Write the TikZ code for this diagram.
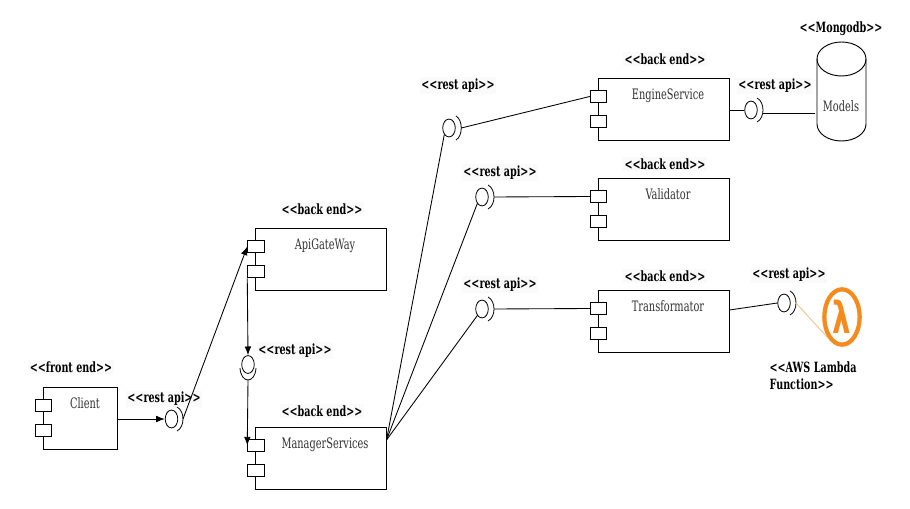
\documentclass[tikz,border=0pt]{standalone}
\usepackage{fontspec}
\setmainfont{DejaVu Serif}[FakeStretch=0.68]
\newfontfamily\lambdafont{DejaVu Sans}[FakeStretch=0.66]
\usetikzlibrary{shapes.geometric,arrows.meta}
\definecolor{lambdaorange}{HTML}{F58A1F}
\definecolor{lambdaline}{HTML}{EFC681}
\tikzset{
  >={Latex[length=6.5pt,width=5pt]},
  compbox/.style={draw=black,fill=white,line width=0.7pt,minimum width=98.2pt,minimum height=46.5pt,inner sep=0pt},
  smallbox/.style={draw=black,fill=white,line width=0.7pt,minimum width=12.4pt,minimum height=9.6pt,inner sep=0pt},
  ball/.style={draw=black,fill=white,ellipse,line width=0.6pt,minimum width=9.4pt,minimum height=13.4pt,inner sep=0pt},
  sock/.style={draw=black,line width=0.6pt},
  wire/.style={draw=black,line width=0.65pt},
  tag/.style={font=\fontsize{10.6}{11}\selectfont\bfseries,fill=black!2,inner sep=1pt},
  title/.style={font=\fontsize{10.8}{11}\selectfont,text=black!80,inner sep=0pt},
}
\begin{document}
\begin{tikzpicture}[x=0.75pt,y=-0.75pt]
  \useasboundingbox (0,0) rectangle (910,509);
  % stereotypes
  \node[tag] (frontTag) at (71,367) {<{}<front end>{}>};
  \node[tag] (clientApiTag) at (164,399) {<{}<rest api>{}>};
  \node[tag] (gateTag) at (322,209) {<{}<back end>{}>};
  \node[tag] (midApiTag) at (295,350.5) {<{}<rest api>{}>};
  \node[tag] (managerTag) at (322,411) {<{}<back end>{}>};
  \node[tag] (engineApiTag) at (458,85.5) {<{}<rest api>{}>};
  \node[tag] (validApiTag) at (500,172.5) {<{}<rest api>{}>};
  \node[tag] (transApiTag) at (500,284.5) {<{}<rest api>{}>};
  \node[tag] (engineTag) at (665,59) {<{}<back end>{}>};
  \node[tag] (validTag) at (665,164) {<{}<back end>{}>};
  \node[tag] (transTag) at (665,276) {<{}<back end>{}>};
  \node[tag] (modelApiTag) at (775,86) {<{}<rest api>{}>};
  \node[tag] (lambdaApiTag) at (789,275) {<{}<rest api>{}>};
  \node[tag,fill=none] (mongoTag) at (841,29) {<{}<Mongodb>{}>};
  \node[tag,fill=none,align=left,anchor=north west,font=\fontsize{10.6}{12.6}\selectfont\bfseries] (lambdaTag) at (768,360) {<{}<AWS Lambda\\Function>{}>};
  % client (left)
  \node[compbox,minimum width=55.5pt] (client) at (80,418) {};
  \node[title] at (85,403) {Client};
  \node[smallbox] (clientA) at (43.5,405.5) {};
  \node[smallbox] (clientB) at (43.5,430.5) {};
  % gateway and manager (centre)
  \node[compbox] (gate) at (321,259) {};
  \node[title] at (325,246) {ApiGateWay};
  \node[smallbox] (gateA) at (256,246.5) {};
  \node[smallbox] (gateB) at (256,271.5) {};
  \node[compbox] (manager) at (321,458) {};
  \node[title] at (325,445) {ManagerServices};
  \node[smallbox] (managerA) at (256,445.5) {};
  \node[smallbox] (managerB) at (256,470.5) {};
  % services (right)
  \node[compbox] (engine) at (663.5,109) {};
  \node[title] at (668,96) {EngineService};
  \node[smallbox] (engineA) at (598.5,96.5) {};
  \node[smallbox] (engineB) at (598.5,121.5) {};
  \node[compbox] (valid) at (663.5,209) {};
  \node[title] at (668,194) {Validator};
  \node[smallbox] (validA) at (598.5,196.5) {};
  \node[smallbox] (validB) at (598.5,221.5) {};
  \node[compbox] (trans) at (663.5,321) {};
  \node[title] at (668,306) {Transformator};
  \node[smallbox] (transA) at (598.5,308.5) {};
  \node[smallbox] (transB) at (598.5,333.5) {};
  % database
  \draw[black,line width=0.7pt] (817,59) -- (817,124) arc[start angle=180,end angle=0,x radius=24.5,y radius=17] -- (866,59);
  \draw[black,line width=0.7pt] (841.5,59) ellipse[x radius=24.5,y radius=17];
  \node[title] (models) at (841,106) {Models};
  % lambda icon
  \node[draw=lambdaorange,ellipse,line width=3.2pt,minimum width=26.5pt,minimum height=41.5pt,inner sep=0pt,text=lambdaorange,font=\fontsize{33}{33}\selectfont\lambdafont\bfseries] (lambda) at (842,317) {λ};
  % provided interfaces
  \node[ball] (clientBall) at (171.5,419) {};
  \node[ball] (midBall) at (248,364.5) {};
  \node[ball] (engineBall) at (449,128) {};
  \node[ball] (validBall) at (482,197) {};
  \node[ball] (transBall) at (482,309) {};
  \node[ball] (modelBall) at (751,110) {};
  \node[ball] (lambdaBall) at (784,303) {};
  % required sockets
  \draw[sock] (177,407) .. controls (185,411) and (185,427) .. (177,431) coordinate[pos=0.5] (clientSock);
  \draw[sock] (240,368) .. controls (241,384) and (255,384) .. (256,368) coordinate[pos=0.5] (midSock);
  \draw[sock] (456,116) .. controls (463,120) and (463,136) .. (456,140) coordinate[pos=0.5] (engineSock);
  \draw[sock] (488,185) .. controls (496,189) and (496,205) .. (488,209) coordinate[pos=0.5] (validSock);
  \draw[sock] (488,297) .. controls (496,301) and (496,317) .. (488,321) coordinate[pos=0.5] (transSock);
  \draw[sock] (757,98) .. controls (765,102) and (765,118) .. (757,122) coordinate[pos=0.5] (modelSock);
  \draw[sock] (790,291) .. controls (798,295) and (798,311) .. (790,315) coordinate[pos=0.5] (lambdaSock);
  % connectors
  \coordinate (managerOut) at (386.5,440);
  \coordinate (modelsIn) at (815,113);
  \draw[wire,->] (client.east |- clientBall) -- (clientBall.west);
  \draw[wire,->] (clientSock) -- (gateA.west);
  \draw[wire,->] (gateB.south west) -- (midBall.north);
  \draw[wire,->] (midSock) -- (managerA.west);
  \draw[wire] (managerOut) -- (engineBall.south west);
  \draw[wire] (managerOut) -- (validBall.south west);
  \draw[wire] (managerOut) -- (transBall.south west);
  \draw[wire] (engineSock) -- (engineA.west);
  \draw[wire] (validSock) -- (validA.west);
  \draw[wire] (transSock) -- (transA.west);
  \draw[wire] (engine.east |- modelBall) -- (modelBall.west);
  \draw[wire] (modelSock |- modelsIn) -- (modelsIn);
  \draw[wire] (trans.east |- 0,310) -- (lambdaBall.west);
  \draw[draw=lambdaline,line width=0.7pt] (lambdaSock) -- (lambda.south west);
\end{tikzpicture}
\end{document}
